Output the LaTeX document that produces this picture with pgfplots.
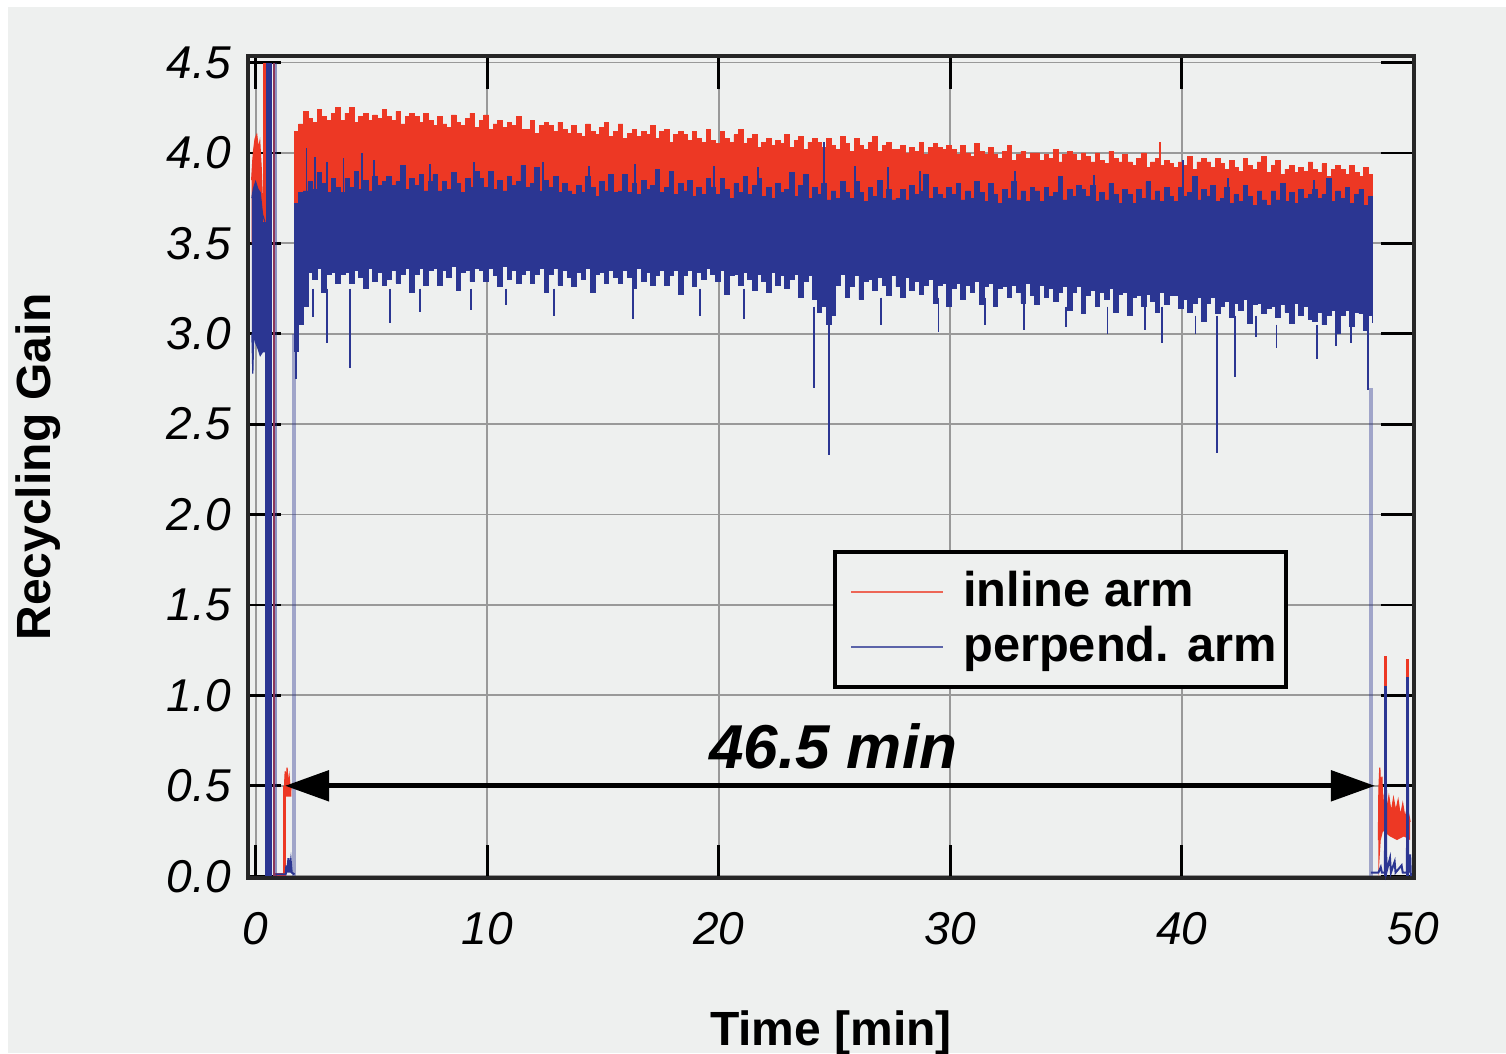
\documentclass[border=0pt]{standalone}
\usepackage{fontspec}
\setmainfont{Liberation Sans}
\usepackage{pgfplots}
\usepackage{pgfplotstable}
\pgfplotsset{compat=1.18}
\usepgfplotslibrary{fillbetween}
\usetikzlibrary{arrows.meta}
\definecolor{bg}{RGB}{238,240,239}
\definecolor{inl}{RGB}{237,56,36}
\definecolor{per}{RGB}{43,54,146}
\pagecolor{bg}
% main band, sampled every 0.2 min from t = 1.66 min: inline top, perpend. top, perpend. bottom
\pgfplotstableread{
rt bt bb
4.12 3.72 2.90
4.16 3.78 3.05
4.23 3.79 3.15
4.19 3.84 3.34
4.17 3.80 3.30
4.24 3.89 3.36
4.20 3.83 3.23
4.18 3.78 3.33
4.22 3.86 3.34
4.25 3.81 3.28
4.18 3.78 3.33
4.22 3.86 3.34
4.25 3.81 3.28
4.17 3.90 3.35
4.20 3.80 3.31
4.22 3.85 3.25
4.18 3.79 3.36
4.21 3.87 3.29
4.19 3.82 3.34
4.24 3.84 3.27
4.20 3.87 3.30
4.18 3.82 3.35
4.23 3.84 3.28
4.16 3.93 3.33
4.20 3.80 3.36
4.22 3.86 3.23
4.20 3.82 3.33
4.17 3.88 3.36
4.22 3.79 3.27
4.18 3.84 3.35
4.15 3.88 3.36
4.20 3.79 3.27
4.16 3.84 3.35
4.14 3.80 3.31
4.21 3.89 3.37
4.17 3.83 3.24
4.15 3.78 3.34
4.19 3.86 3.35
4.22 3.81 3.29
4.14 3.90 3.36
4.18 3.86 3.35
4.21 3.81 3.29
4.13 3.90 3.36
4.16 3.80 3.32
4.18 3.85 3.26
4.14 3.79 3.37
4.17 3.87 3.30
4.15 3.82 3.35
4.20 3.84 3.28
4.13 3.93 3.33
4.13 3.81 3.35
4.18 3.83 3.28
4.11 3.92 3.33
4.15 3.79 3.36
4.17 3.85 3.23
4.15 3.81 3.33
4.12 3.87 3.36
4.17 3.78 3.27
4.13 3.83 3.35
4.11 3.79 3.31
4.15 3.77 3.26
4.11 3.82 3.34
4.09 3.78 3.30
4.16 3.87 3.36
4.12 3.81 3.23
4.10 3.76 3.33
4.14 3.84 3.34
4.17 3.79 3.28
4.09 3.88 3.35
4.12 3.78 3.31
4.16 3.79 3.28
4.08 3.88 3.35
4.11 3.78 3.31
4.13 3.83 3.25
4.09 3.77 3.36
4.12 3.85 3.29
4.10 3.80 3.34
4.15 3.82 3.27
4.08 3.91 3.32
4.12 3.78 3.35
4.13 3.81 3.27
4.06 3.90 3.32
4.10 3.77 3.35
4.12 3.83 3.22
4.10 3.79 3.32
4.07 3.85 3.35
4.12 3.76 3.26
4.08 3.81 3.34
4.06 3.77 3.30
4.13 3.86 3.36
4.07 3.81 3.33
4.05 3.77 3.29
4.12 3.86 3.35
4.08 3.80 3.22
4.06 3.75 3.32
4.10 3.83 3.33
4.13 3.78 3.27
4.05 3.87 3.34
4.08 3.77 3.30
4.10 3.82 3.24
4.03 3.86 3.33
4.06 3.76 3.29
4.08 3.81 3.23
4.04 3.75 3.34
4.07 3.83 3.27
4.05 3.78 3.32
4.10 3.80 3.25
4.03 3.89 3.30
4.07 3.76 3.33
4.09 3.82 3.20
4.02 3.88 3.29
4.06 3.75 3.32
4.08 3.81 3.19
4.06 3.77 3.12
4.03 3.83 3.15
4.08 3.74 3.05
4.04 3.79 3.10
4.02 3.75 3.27
4.09 3.84 3.33
4.05 3.78 3.20
4.01 3.75 3.26
4.08 3.84 3.32
4.04 3.78 3.19
4.02 3.73 3.29
4.06 3.81 3.30
4.09 3.76 3.24
4.01 3.85 3.31
4.04 3.75 3.27
4.06 3.80 3.21
4.02 3.74 3.32
4.02 3.75 3.26
4.04 3.80 3.20
4.00 3.74 3.31
4.03 3.82 3.24
4.01 3.77 3.29
4.06 3.79 3.22
3.99 3.88 3.27
4.03 3.75 3.30
4.05 3.81 3.17
4.03 3.77 3.27
4.02 3.75 3.28
4.04 3.81 3.15
4.02 3.77 3.25
3.99 3.83 3.28
4.04 3.74 3.19
4.00 3.79 3.27
3.98 3.75 3.23
4.05 3.84 3.29
4.01 3.78 3.16
3.99 3.73 3.26
4.03 3.83 3.28
3.99 3.77 3.15
3.97 3.72 3.25
4.01 3.80 3.26
4.04 3.75 3.20
3.96 3.84 3.27
3.99 3.74 3.23
4.01 3.79 3.17
3.97 3.73 3.28
4.00 3.81 3.21
4.00 3.79 3.16
3.96 3.73 3.27
3.99 3.81 3.20
3.97 3.76 3.25
4.02 3.78 3.18
3.95 3.87 3.23
3.99 3.74 3.26
4.01 3.80 3.13
3.99 3.76 3.23
3.96 3.82 3.26
4.00 3.80 3.11
3.98 3.76 3.21
3.95 3.82 3.24
4.00 3.73 3.15
3.96 3.78 3.23
3.94 3.74 3.19
4.01 3.83 3.25
3.97 3.77 3.12
3.95 3.72 3.22
3.99 3.80 3.23
3.95 3.77 3.10
3.93 3.72 3.20
3.97 3.80 3.21
4.00 3.75 3.15
3.92 3.84 3.22
3.95 3.74 3.18
3.97 3.79 3.12
3.93 3.73 3.23
3.96 3.81 3.16
3.94 3.76 3.21
3.92 3.73 3.21
3.95 3.81 3.14
3.93 3.76 3.19
3.98 3.78 3.12
3.91 3.87 3.17
3.95 3.74 3.20
3.97 3.80 3.07
3.95 3.76 3.17
3.92 3.82 3.20
3.97 3.73 3.11
3.94 3.75 3.15
3.91 3.81 3.18
3.96 3.72 3.09
3.92 3.77 3.17
3.90 3.73 3.13
3.97 3.82 3.19
3.93 3.76 3.06
3.91 3.71 3.16
3.95 3.79 3.17
3.98 3.74 3.11
3.89 3.71 3.14
3.93 3.79 3.15
3.96 3.74 3.09
3.88 3.83 3.16
3.91 3.73 3.12
3.93 3.78 3.06
3.89 3.72 3.17
3.92 3.80 3.10
3.90 3.75 3.15
3.95 3.77 3.08
3.91 3.80 3.07
3.89 3.75 3.12
3.94 3.77 3.05
3.87 3.86 3.10
3.91 3.73 3.13
3.93 3.79 3.00
3.91 3.75 3.10
3.88 3.81 3.13
3.93 3.72 3.04
3.89 3.77 3.12
3.87 3.80 3.11
3.92 3.71 3.02
3.88 3.76 3.10
3.86 3.72 3.06
}\band
\begin{document}
\begin{tikzpicture}
\fill[white] (-61.875pt,-43.75pt) rectangle (-59.875pt,219.5pt);
\fill[white] (-61.875pt,217.75pt) rectangle (314.625pt,219.5pt);
\begin{axis}[
  at={(0,0)}, anchor=south west,
  scale only axis, width=291.7pt, height=205.5pt,
  xmin=-0.35, xmax=50.05, ymin=-0.01, ymax=4.536,
  xtick={0,10,20,30,40,50}, xticklabels={0,10,20,30,40,50},
  ytick={0,0.5,1,1.5,2,2.5,3,3.5,4,4.5},
  yticklabels={0.0,0.5,1.0,1.5,2.0,2.5,3.0,3.5,4.0,4.5},
  xtick pos=both, ytick pos=both,
  tick align=inside, major tick length=8.25pt,
  every tick/.style={black, line width=0.7pt},
  grid=major, grid style={black!40, line width=0.45pt},
  axis line style={black!85, line width=1pt},
  ticklabel style={font=\fontsize{11.5}{13}\selectfont\itshape},
  xticklabel style={anchor=north, inner sep=0pt, yshift=-8.5pt},
  yticklabel style={anchor=east, inner sep=0pt, xshift=-4pt},
  xlabel={Time [min]}, ylabel={Recycling Gain},
  label style={font=\fontsize{12}{14}\selectfont\bfseries},
  xlabel style={at={(axis description cs:0.5,-0.2032)}, anchor=base},
  ylabel style={at={(axis description cs:-0.1796,0.5)}, anchor=center},
  legend style={at={(axis cs:24.95,1.803)}, anchor=north west, draw=black, line width=1pt, fill=bg,
    font=\fontsize{12.2}{14}\selectfont\bfseries, inner xsep=0.25pt, inner ysep=2.75pt, row sep=-0.5pt},
  legend cell align=left,
  legend image code/.code={\path[draw=none] (-3.75pt,0pt) -- (26pt,0pt); \draw[#1] (0pt,0pt) -- (23pt,0pt);},
  clip=false, unbounded coords=jump,
]
\addlegendimage{inl, line width=0.6pt, opacity=0.75}
\addlegendentry{inline arm}
\addlegendimage{per, line width=0.6pt, opacity=0.75}
\addlegendentry{perpend. arm}

% ---------------- inline arm (red) ----------------
\addplot[inl, line width=0.3pt, name path=rt0, forget plot] coordinates {(-0.17,3.85)(-0.12,3.96)(-0.08,4.02)(-0.02,4.08)(0.05,4.1)(0.12,4.02)(0.18,4.06)(0.24,3.92)(0.3,3.72)(0.35,3.7)};
\addplot[draw=none, name path=rb0, forget plot] coordinates {(-0.17,3.5)(0.35,3.5)};
\addplot[inl, forget plot] fill between[of=rt0 and rb0];
\addplot[inl, line width=0.6pt, forget plot] coordinates {(0.38,3.62)(0.38,4.5)};
\addplot[inl, line width=0.5pt, forget plot] coordinates {(0.78,0)(0.78,4.5)};
\addplot[inl, line width=0.6pt, forget plot] coordinates {(0.78,0.01)(1.25,0.01)(1.25,0.5)};
\addplot[inl, line width=0.3pt, name path=rt1, forget plot] coordinates {(1.25,0.5)(1.28,0.58)(1.32,0.5)(1.36,0.6)(1.4,0.5)(1.45,0.55)(1.5,0.47)(1.55,0.5)};
\addplot[draw=none, name path=rb1, forget plot] coordinates {(1.25,0.44)(1.55,0.44)};
\addplot[inl, forget plot] fill between[of=rt1 and rb1];
% main band
\addplot[inl, const plot, line width=0.2pt, name path=rt, forget plot] table[x expr={1.66+0.2*\coordindex}, y=rt] {\band};
\addplot[draw=none, name path=rb, forget plot] coordinates {(1.66,3.5)(48.26,3.3)};
\addplot[inl, forget plot] fill between[of=rt and rb];
\addplot[inl, line width=0.5pt, forget plot] coordinates {(39.07,3.9)(39.07,4.06)};
% end segment
\addplot[inl, line width=0.3pt, name path=rt2, forget plot] coordinates {(48.5,0.2)(48.52,0.48)(48.56,0.6)(48.6,0.45)(48.65,0.55)(48.7,0.32)(48.76,0.46)(48.85,0.36)(48.95,0.44)(49.05,0.35)(49.15,0.43)(49.25,0.36)(49.35,0.42)(49.45,0.33)(49.55,0.4)(49.65,0.32)(49.75,0.38)(49.87,0.3)};
\addplot[draw=none, name path=rb2, forget plot] coordinates {(48.5,0.0)(48.6,0.2)(48.7,0.25)(49.0,0.22)(49.3,0.2)(49.6,0.22)(49.87,0.2)};
\addplot[inl, forget plot] fill between[of=rt2 and rb2];
\addplot[inl, line width=0.7pt, forget plot] coordinates {(48.8,0.3)(48.8,1.22)};
\addplot[inl, line width=0.7pt, forget plot] coordinates {(49.75,0.3)(49.75,1.2)};

% ---------------- perpendicular arm (blue) ----------------
\addplot[per, line width=0.3pt, name path=bt0, forget plot] coordinates {(-0.16,3.75)(-0.1,3.8)(0,3.84)(0.1,3.8)(0.2,3.78)(0.3,3.66)(0.4,3.62)};
\addplot[per, line width=0.3pt, name path=bb0, forget plot] coordinates {(-0.16,3.0)(-0.12,2.78)(-0.08,3.0)(0,2.95)(0.1,2.92)(0.2,2.88)(0.3,2.9)(0.4,2.9)};
\addplot[per, forget plot] fill between[of=bt0 and bb0];
\addplot[draw=none, name path=bt1, forget plot] coordinates {(0.41,4.5)(0.71,4.5)};
\addplot[draw=none, name path=bb1, forget plot] coordinates {(0.41,0)(0.71,0)};
\addplot[per, forget plot] fill between[of=bt1 and bb1];
\addplot[per, opacity=0.5, line width=0.8pt, forget plot] coordinates {(0.84,0)(0.84,4.5)};
\addplot[per, line width=0.5pt, forget plot] coordinates {(0.86,0.01)(1.3,0.01)(1.33,0.06)(1.36,0.02)(1.42,0.1)(1.46,0.02)(1.52,0.08)(1.56,0.02)(1.68,0.01)};
\addplot[per, opacity=0.4, line width=1pt, forget plot] coordinates {(1.68,0)(1.68,3.0)};
% main band
\addplot[per, const plot, line width=0.2pt, name path=bt, forget plot] table[x expr={1.66+0.2*\coordindex}, y=bt] {\band};
\addplot[per, const plot, line width=0.2pt, name path=bb, forget plot] table[x expr={1.66+0.2*\coordindex}, y=bb] {\band};
\addplot[per, forget plot] fill between[of=bt and bb];
% single excursions below the band
\addplot[per, line width=0.45pt, forget plot] coordinates {
(1.76,3.0)(1.76,2.75)(1.76,nan) (2.49,3.25)(2.49,3.09)(2.49,nan) (3.08,3.25)(3.08,2.95)(3.08,nan)
(4.08,3.25)(4.08,2.81)(4.08,nan) (5.8,3.25)(5.8,3.06)(5.8,nan) (7.1,3.25)(7.1,3.12)(7.1,nan)
(9.3,3.25)(9.3,3.13)(9.3,nan) (10.8,3.25)(10.8,3.16)(10.8,nan) (12.9,3.25)(12.9,3.1)(12.9,nan)
(16.3,3.25)(16.3,3.08)(16.3,nan) (19.2,3.25)(19.2,3.1)(19.2,nan) (21.1,3.25)(21.1,3.08)(21.1,nan)
(24.13,3.15)(24.13,2.70)(24.13,nan) (24.77,3.05)(24.77,2.33)(24.77,nan) (27.0,3.2)(27.0,3.05)(27.0,nan)
(29.5,3.2)(29.5,3.01)(29.5,nan) (31.5,3.2)(31.5,3.05)(31.5,nan) (33.2,3.2)(33.2,3.02)(33.2,nan)
(35.0,3.15)(35.0,3.04)(35.0,nan) (36.8,3.15)(36.8,3.0)(36.8,nan) (38.4,3.15)(38.4,3.02)(38.4,nan)
(39.14,3.15)(39.14,2.95)(39.14,nan) (40.6,3.1)(40.6,3.0)(40.6,nan) (41.52,3.1)(41.52,2.34)(41.52,nan)
(42.3,3.1)(42.3,2.76)(42.3,nan) (43.2,3.1)(43.2,2.98)(43.2,nan) (44.1,3.05)(44.1,2.92)(44.1,nan)
(45.84,3.05)(45.84,2.86)(45.84,nan) (46.67,3.05)(46.67,2.93)(46.67,nan) (47.3,3.05)(47.3,2.95)(47.3,nan)
(48.06,3.05)(48.06,2.69)};
% single excursions above the band
\addplot[per, line width=0.45pt, forget plot] coordinates {
(2.2,3.78)(2.2,4.03)(2.2,nan) (2.55,3.78)(2.55,3.98)(2.55,nan) (3.1,3.78)(3.1,3.95)(3.1,nan)
(3.8,3.78)(3.8,3.97)(3.8,nan) (4.6,3.78)(4.6,4.0)(4.6,nan) (5.1,3.78)(5.1,3.96)(5.1,nan)
(7.55,3.78)(7.55,3.94)(7.55,nan) (9.45,3.78)(9.45,3.95)(9.45,nan) (12.4,3.76)(12.4,3.95)(12.4,nan)
(14.4,3.76)(14.4,3.93)(14.4,nan) (16.4,3.76)(16.4,3.94)(16.4,nan) (19.8,3.75)(19.8,3.93)(19.8,nan)
(21.7,3.75)(21.7,3.92)(21.7,nan) (24.55,3.74)(24.55,4.06)(24.55,nan) (25.9,3.74)(25.9,3.93)(25.9,nan)
(27.3,3.74)(27.3,3.92)(27.3,nan) (28.7,3.74)(28.7,3.9)(28.7,nan) (32.8,3.74)(32.8,3.9)(32.8,nan)
(36.2,3.74)(36.2,3.88)(36.2,nan) (40.07,3.74)(40.07,3.96)(40.07,nan) (42.0,3.73)(42.0,3.86)(42.0,nan)
(45.7,3.73)(45.7,3.85)};
% end segment
\addplot[per, opacity=0.4, line width=1pt, forget plot] coordinates {(48.17,0)(48.17,2.7)};
\addplot[per, line width=0.5pt, forget plot] coordinates {(48.17,0.02)(48.5,0.02)(48.6,0.05)(48.65,0.02)(48.78,0.02)(48.81,1.05)(48.84,0.02)(49.0,0.1)(49.04,0.02)(49.2,0.08)(49.24,0.02)(49.5,0.06)(49.55,0.02)(49.73,0.02)(49.76,1.1)(49.79,0.02)(49.87,0.12)(49.9,0.0)};
\addplot[per, line width=0.7pt, forget plot] coordinates {(48.81,0)(48.81,1.05)};
\addplot[per, line width=0.7pt, forget plot] coordinates {(49.76,0)(49.76,1.1)};

% annotation
\draw[{Triangle[length=11pt,width=7.5pt]}-{Triangle[length=11pt,width=7.5pt]}, line width=1.3pt] (axis cs:1.27,0.5) -- (axis cs:48.35,0.5);
\node[font=\fontsize{15.5}{18}\selectfont\bfseries\itshape, anchor=base] at (axis cs:24.95,0.597) {46.5 min};
\end{axis}
\pgfresetboundingbox
\path[use as bounding box] (-61.875pt,-43.75pt) rectangle (314.625pt,219.5pt);
\end{tikzpicture}
\end{document}
